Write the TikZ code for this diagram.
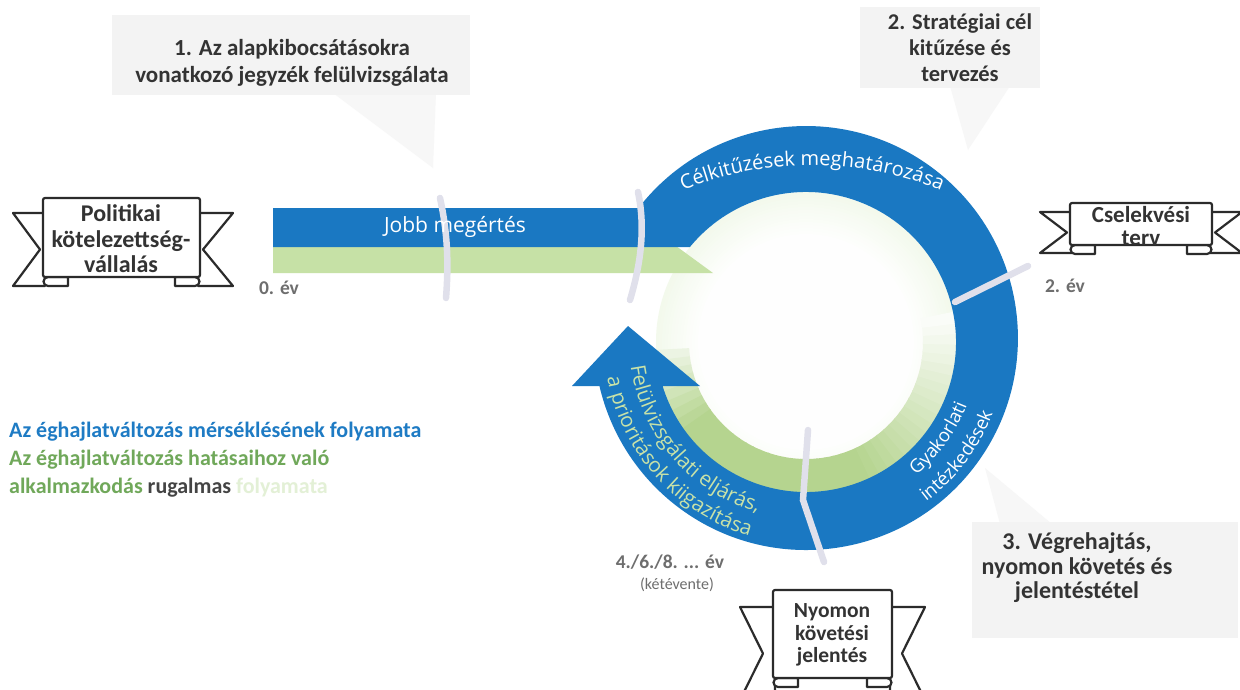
\documentclass[tikz,border=0pt]{standalone}
\usepackage{fontspec}
\setmainfont{Carlito}
\newfontfamily\ofont{Open Sans}
\usetikzlibrary{decorations.text}
\definecolor{ringblue}{HTML}{1A78C2}
\definecolor{bargreen}{HTML}{C6E1A6}
\definecolor{gband}{HTML}{B5D48F}
\definecolor{glow}{HTML}{D6EBC0}
\definecolor{sepgray}{HTML}{E0E0EB}
\definecolor{callgray}{HTML}{F3F3F3}
\definecolor{pointgray}{HTML}{F7F7F7}
\definecolor{calltextc}{HTML}{333333}
\definecolor{ribbonink}{HTML}{2B2B2B}
\definecolor{legblue}{HTML}{1E7BC4}
\definecolor{leggreen}{HTML}{70A85A}
\definecolor{rugc}{HTML}{444444}
\definecolor{fadegreen}{HTML}{E3F0D6}
\definecolor{yeargray}{HTML}{6E6E6E}
\definecolor{arrowtext}{HTML}{C8E2A8}
\tikzset{
  sepline/.style={line width=6.5pt, draw=sepgray, line cap=round},
  ribbonline/.style={line width=2.2pt, draw=ribbonink, fill=white, line join=round},
  calltext/.style={font=\bfseries\fontsize{23}{27}\selectfont, text=calltextc, align=center, inner sep=0pt},
  bannertext/.style={font=\bfseries\fontsize{24}{25.5}\selectfont, text=calltextc, align=center, inner sep=0pt},
  legendtext/.style={font=\bfseries\fontsize{22}{24}\selectfont, inner sep=0pt},
  yeartext/.style={font=\bfseries\fontsize{19.5}{22}\selectfont, text=yeargray, inner sep=0pt},
}
\newcommand\drawribbon[9]{%
  \filldraw[ribbonline] ({#1+2},-#7) -- (#5,-#7) -- ({#1-#9},{-(#7+#8)/2}) -- (#5,-#8) -- ({#1+2},-#8) -- cycle;
  \filldraw[ribbonline] ({#2-2},-#7) -- (#6,-#7) -- ({#2+#9},{-(#7+#8)/2}) -- (#6,-#8) -- ({#2-2},-#8) -- cycle;
  \filldraw[ribbonline] ({#1+25},-#4) -- ({#1+25},{-#4-9}) -- ({#1+5},{-#4-9}) arc[start angle=270, end angle=90, radius=4.5] -- cycle;
  \filldraw[ribbonline] ({#2-25},-#4) -- ({#2-25},{-#4-9}) -- ({#2-5},{-#4-9}) arc[start angle=270, end angle=450, radius=4.5] -- cycle;
  \filldraw[ribbonline, rounded corners=2pt] (#1,-#3) rectangle (#2,-#4);
}
\begin{document}
\begin{tikzpicture}[x=1pt,y=1pt]
\useasboundingbox (0,0) rectangle (1240,-689);
\clip (0,0) rectangle (1240,-689);
\fill[white] (0,0) rectangle (1240,-689);
\coordinate (Co) at (806,-338);
\coordinate (Ci) at (806,-342);

% callouts
\fill[pointgray] (333,-93) -- (436,-93) -- (433,-168) -- cycle;
\fill[callgray] (112,-15) rectangle (470,-95);
\fill[pointgray] (950,-86) -- (1010,-86) -- (968,-150) -- cycle;
\fill[callgray] (860,-7) rectangle (1040,-88);
\fill[pointgray] (1000,-524) -- (1052,-524) -- (985,-468) -- cycle;
\fill[callgray] (972,-522) rectangle (1238,-638);

% inner glow
\foreach \i in {0,...,14} {
  \pgfmathsetmacro\gr{150-3*\i}
  \pgfmathsetmacro\gp{30-2*\i}
  \fill[glow!\gp!white] (Ci) circle[radius=\gr];
}
% green inner band
\foreach \a in {183,187,...,367} {
  \pgfmathsetmacro\p{max(0,min(100,(\a-183)*2.4+25,(372-\a)*1.25))}
  \pgfmathsetmacro\b{\a+4.6}
  \fill[gband!\p!white] ([shift={(\a:117)}]Ci) -- ([shift={(\a:151)}]Ci) arc[start angle=\a, end angle=\b, radius=151] -- ([shift={(\b:117)}]Ci) arc[start angle=\b, end angle=\a, radius=117] -- cycle;
}

% green bar
\fill[bargreen] (273,-246) -- (676,-246) -- (713,-273) -- (273,-273) -- cycle;

% blue bar + ring + arrow
\fill[ringblue] (273,-208) -- (638.5,-208) arc[start angle=142.17, end angle=-166.9, radius=212]
  -- (572,-386) -- (628,-326) -- (700,-386) -- (662.6,-386)
  arc[start angle=-162.94, end angle=140.7, radius=150] -- (273,-247) -- cycle;

% separators
\draw[sepline] (440,-198) .. controls (447,-230) and (449,-260) .. (446,-298);
\draw[sepline] (638,-192) .. controls (645,-225) and (642,-260) .. (630,-300);
\draw[sepline] (955,-302) -- (1028,-266);
\draw[sepline] (808,-430) -- (803,-500) -- (824,-562);

% ring texts
\node[font=\ofont\fontsize{21}{24}\selectfont, text=white, inner sep=0pt] (jobb) at (455,-227) {Jobb megértés};
\path[decorate, decoration={text along path, text align=center, text color=white,
  text={|\ofont\fontsize{20}{22}\selectfont|Célkitűzések meghatározása}}]
  ([shift={(125:340)}]812,-505) arc[start angle=125, end angle=55, radius=340];
\path[decorate, decoration={text along path, text align=center, text color=white,
  text={|\ofont\fontsize{18.5}{20}\selectfont|Gyakorlati}}]
  ([shift={(-72:173)}]Ci) arc[start angle=-72, end angle=0, radius=173];
\path[decorate, decoration={text along path, text align=center, text color=white,
  text={|\ofont\fontsize{18.5}{20}\selectfont|intézkedések}}]
  ([shift={(-74:200)}]Ci) arc[start angle=-74, end angle=0, radius=200];
\path[decorate, decoration={text along path, text align=center, text color=arrowtext,
  text={|\ofont\fontsize{20.5}{22}\selectfont|Felülvizsgálati eljárás,}}]
  ([shift={(166:177)}]Ci) arc[start angle=166, end angle=276, radius=177];
\path[decorate, decoration={text along path, text align=center, text color=arrowtext,
  text={|\ofont\fontsize{20.5}{22}\selectfont|a prioritások kiigazítása}}]
  ([shift={(168:202)}]Ci) arc[start angle=168, end angle=276, radius=202];

% callout texts
\node[calltext] (c1) at (292,-63) {1. Az alapkibocsátásokra\\vonatkozó jegyzék felülvizsgálata};
\node[calltext, font=\bfseries\fontsize{22.5}{26}\selectfont] (c2) at (960,-48) {2. Stratégiai cél\\kitűzése és\\tervezés};
\node[calltext, font=\bfseries\fontsize{24}{24.5}\selectfont] (c3) at (1077,-568) {3. Végrehajtás,\\nyomon követés és\\jelentéstétel};

% banners
\drawribbon{43}{200}{198}{277}{13}{233}{213}{286}{3}
\node[bannertext] (b1) at (121,-239) {Politikai\\kötelezettség-\\vállalás};
\drawribbon{1070}{1212}{203}{245}{1040}{1242}{212}{253}{3}
\node[bannertext, font=\bfseries\fontsize{23}{22.5}\selectfont] (b2) at (1141,-226) {Cselekvési\\terv};
\drawribbon{773}{892}{590}{678}{740}{925}{607}{700}{10}
\node[bannertext, font=\bfseries\fontsize{21.5}{22.5}\selectfont] (b3) at (832,-635) {Nyomon\\követési\\jelentés};

% years
\node[yeartext] (y0) at (279,-288) {0. év};
\node[yeartext] (y2) at (1065,-286) {2. év};
\node[yeartext] (y4) at (670,-562) {4./6./8. ... év};
\node[font=\fontsize{16}{19}\selectfont, text=yeargray, inner sep=0pt] (y4b) at (677,-585) {(kétévente)};

% legend
\node[legendtext, text=legblue, anchor=base west] (leg1) at (9,-437) {Az éghajlatváltozás mérséklésének folyamata};
\node[legendtext, text=leggreen, anchor=base west] (leg2) at (9,-465) {Az éghajlatváltozás hatásaihoz való};
\node[legendtext, text=leggreen, anchor=base west] (leg3) at (9,-493) {alkalmazkodás \textcolor{rugc}{rugalmas} \textcolor{fadegreen}{folyamata}};
\end{tikzpicture}
\end{document}
